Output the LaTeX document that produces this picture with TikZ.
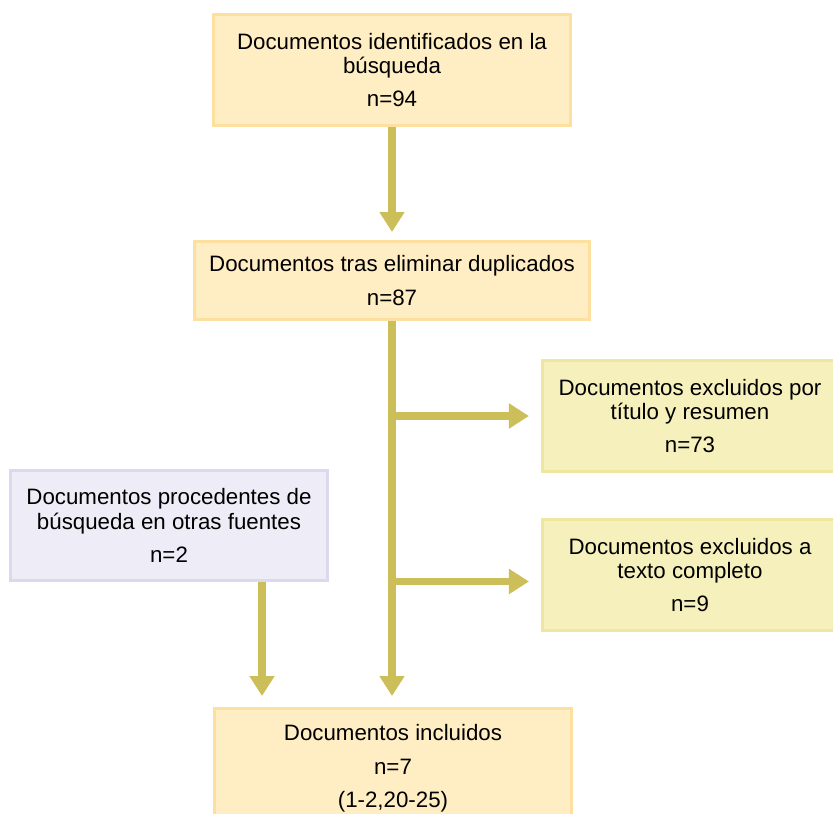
\documentclass[tikz,border=0pt]{standalone}
\usepackage{fontspec}
\setmainfont{Liberation Sans}
\definecolor{arrowcolor}{rgb}{0.80, 0.745, 0.35}
\definecolor{orangeline}{rgb}{0.992, 0.875, 0.624}
\definecolor{orangefill}{rgb}{1, 0.929, 0.769}
\definecolor{yellowline}{rgb}{0.933, 0.906, 0.627}
\definecolor{yellowfill}{rgb}{0.965, 0.945, 0.737}
\definecolor{lilacline}{rgb}{0.863, 0.851, 0.933}
\definecolor{lilacfill}{rgb}{0.933, 0.929, 0.969}
\usetikzlibrary{arrows.meta,positioning}
\tikzset{
	docblock/.style={
		rectangle,
		line width=3pt,
		draw=orangeline,
		fill=orangefill,
		align=center,
		font=\fontsize{22.3}{24.3}\selectfont
	},
	exclblock/.style={
		docblock,
		draw=yellowline,
		fill=yellowfill
	},
	extblock/.style={
		docblock,
		draw=lilacline,
		fill=lilacfill
	},
	flow/.style={
		draw=arrowcolor,
		line width=7.5pt,
		-{Triangle[width=24pt,length=20pt]}
	},
}

\begin{document}
\begin{tikzpicture}[x=1pt,y=1pt,node distance=200pt,on grid]
			\useasboundingbox (-392,70) rectangle (441,-744);
			\clip (-392,70) rectangle (441,-744);
			\node[docblock,minimum width=357pt,minimum height=111pt] (ident) {Documentos identificados en la\\ búsqueda\\[9pt] n=94};
			\node[docblock,minimum width=395pt,minimum height=78pt] (dupl) [below=210.5pt of ident] {Documentos tras eliminar duplicados\\[9pt] n=87};
			\node[exclblock,minimum width=295pt,minimum height=111pt] (titulo) [below right=135.5pt and 298pt of dupl] {Documentos excluidos por\\ título y resumen\\[9pt] n=73};
			\node[exclblock,minimum width=295pt,minimum height=111pt] (texto) [below=159pt of titulo] {Documentos excluidos a\\ texto completo\\[9pt] n=9};
			\node[extblock,minimum width=317pt,minimum height=110pt] (otras) [below left=245pt and 223pt of dupl] {Documentos procedentes de\\ búsqueda en otras fuentes\\[9pt] n=2};
			\node[docblock,minimum width=357pt,minimum height=120pt] (incl) [below=488pt of dupl,xshift=1pt] {Documentos incluidos\\[9pt] n=7\\[9pt] (1-2,20-25)};
			\coordinate (t4) at ([yshift=-6.5pt]texto.west);
			\coordinate (o1) at ([xshift=93pt]otras.south);
			\draw[flow,shorten >=8pt] (ident) -- (dupl);
			\draw[flow,shorten >=11pt] (dupl.south) -- (dupl.south |- incl.north);
			\draw[flow,shorten >=12pt] (titulo.west -| dupl.south) -- (titulo.west);
			\draw[flow,shorten >=12pt] (t4 -| dupl.south) -- (t4);
			\draw[flow,shorten >=11pt] (o1) -- (o1 |- incl.north);
\end{tikzpicture}
\end{document}
